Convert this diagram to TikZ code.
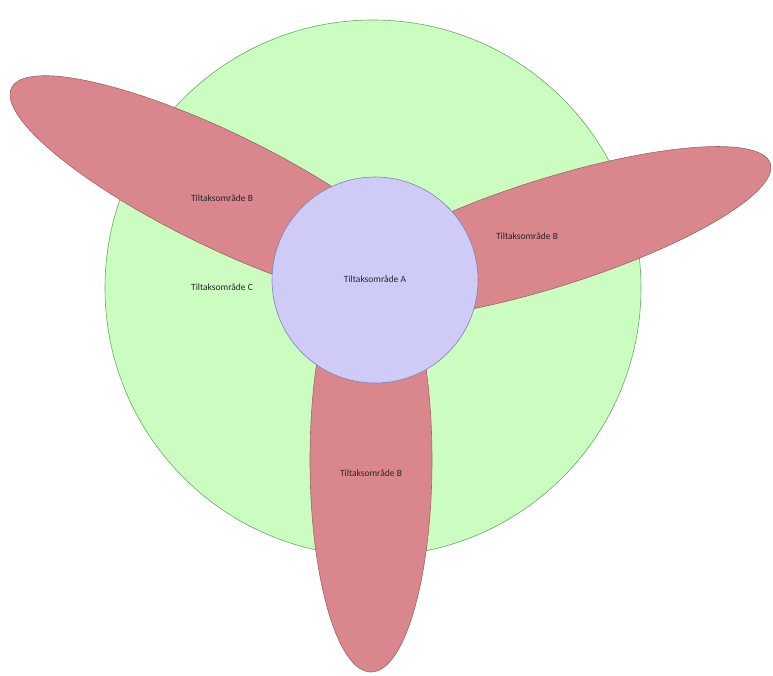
\documentclass[tikz,border=0pt]{standalone}
\usepackage{fontspec}
\setmainfont{Carlito}
\usetikzlibrary{shapes.geometric}
\definecolor{outergreen}{HTML}{CCFDC0}
\definecolor{petalred}{HTML}{D9878C}
\definecolor{innerblue}{HTML}{CECCF6}
\tikzset{
  zone/.style={ellipse, inner sep=0pt, line width=0.6pt},
  petal/.style={zone, fill=petalred, draw=black!65!red!60},
  lbl/.style={font=\fontsize{9.5}{11}\selectfont, text=black!85, inner sep=0pt}
}
\begin{document}
\begin{tikzpicture}[x=1pt,y=-1pt]
\useasboundingbox (0,0) rectangle (773,675);
\clip (0,0) rectangle (773,675);
\node[zone, circle, fill=outergreen, draw=black!55!green!60, minimum size=536pt] (outer) at (373,288) {};
\node[petal, minimum width=466pt, minimum height=114pt, rotate=-26] (petalL) at (221,190) {};
\node[petal, minimum width=462pt, minimum height=108pt, rotate=17.5] (petalR) at (550,233) {};
\node[petal, minimum width=122pt, minimum height=424pt] (petalD) at (371,460) {};
\node[zone, circle, fill=innerblue, draw=black!50!blue!50, minimum size=206pt] (inner) at (375,280) {};
\node[lbl] (tA) at (375,279) {Tiltaksområde A};
\node[lbl] (tBL) at (222,198) {Tiltaksområde B};
\node[lbl] (tBR) at (527,236) {Tiltaksområde B};
\node[lbl] (tBD) at (371,473) {Tiltaksområde B};
\node[lbl] (tC) at (222,287) {Tiltaksområde C};
\end{tikzpicture}
\end{document}
